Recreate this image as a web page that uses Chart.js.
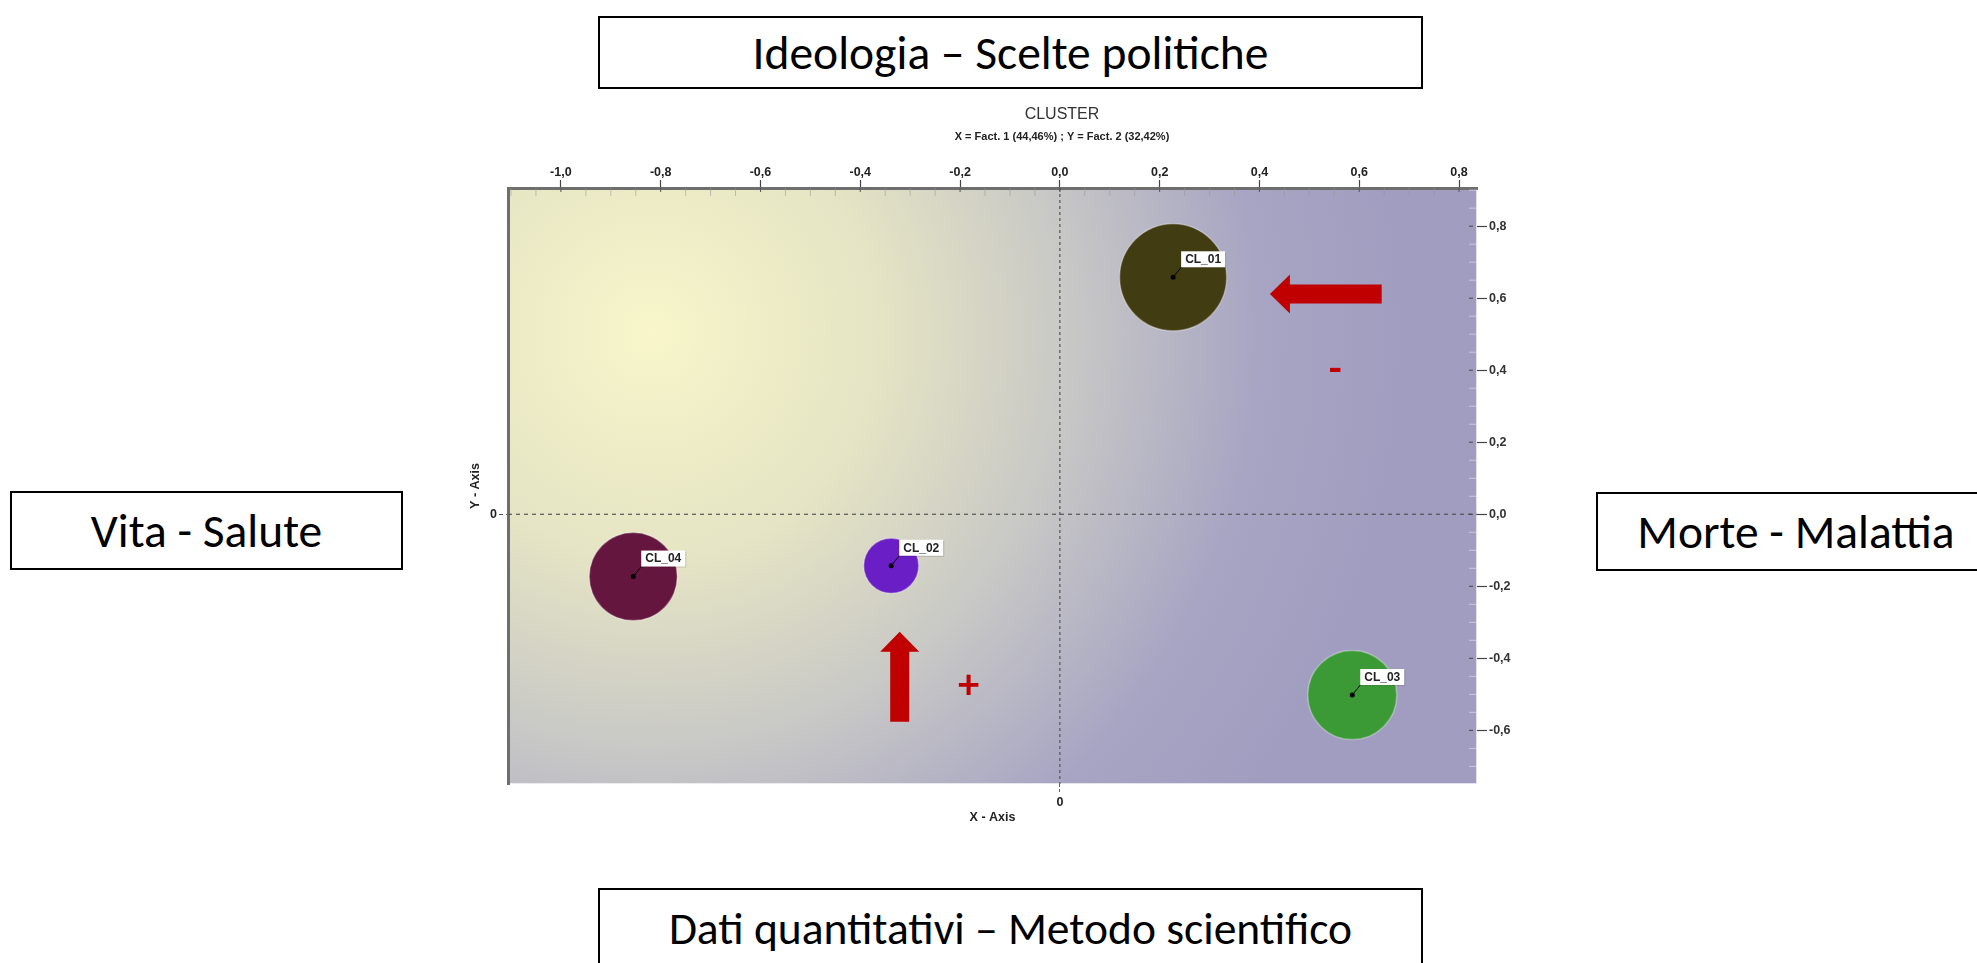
<!DOCTYPE html>
<html>
<head>
<meta charset="utf-8">
<title>Cluster</title>
<script src="https://cdn.jsdelivr.net/npm/chart.js@4.4.1/dist/chart.umd.min.js"></script>
<style>
  html, body { margin: 0; padding: 0; background: #fff; }
  #wrap { position: relative; width: 1977px; height: 963px; overflow: hidden; }
  #clusterChart { position: absolute; left: 147px; top: 0; }
  .box {
    position: absolute; box-sizing: border-box; border: 2px solid #000; background: #fff;
    display: flex; align-items: center; justify-content: center; white-space: nowrap;
    font-family: Calibri, Carlito, Lato, sans-serif; font-size: 47.5px; color: #000;
  }
</style>
</head>
<body>
<div id="wrap">
  <canvas id="clusterChart" width="1830" height="963"></canvas>
  <div class="box" style="left:598px;top:16px;width:825px;height:73px;">Ideologia – Scelte politiche</div>
  <div class="box" style="left:10px;top:491px;width:393px;height:79px;">Vita - Salute</div>
  <div class="box" style="left:1596px;top:492px;width:400px;height:79px;">Morte - Malattia</div>
  <div class="box" style="left:598px;top:888px;width:825px;height:80px;font-size:45.5px;">Dati quantitativi – Metodo scientifico</div>
</div>
<script>
// Cluster centroids on the two factors
const clusterLabels = ["CL_01", "CL_02", "CL_03", "CL_04"];
const factor1 = [0.227, -0.338, 0.586, -0.855];
const factor2 = [0.658, -0.143, -0.502, -0.173];
const clusterRadius = [53.5, 27.5, 44.5, 44];
const clusterColors = ["#423c12", "#6a1fc6", "#3c9a36", "#64163f"];

// Axis ticks
const xTicks = [-1.0, -0.8, -0.6, -0.4, -0.2, 0.0, 0.2, 0.4, 0.6, 0.8];
const yTicks = [-0.6, -0.4, -0.2, 0.0, 0.2, 0.4, 0.6, 0.8];

const X_MIN = -1.106, X_MAX = 0.836;
const Y_MIN = -0.749, Y_MAX = 0.906;

// Red hints drawn on top of the plot (data coordinates)
const arrows = [
  { from: [0.645, 0.612], to: [0.421, 0.612] },
  { from: [-0.321, -0.576], to: [-0.321, -0.326] },
];
const signs = [
  { text: "-", x: 0.552, y: 0.402 },
  { text: "+", x: -0.183, y: -0.473 },
];

const RED = "#c00000";
const AXIS_FONT = "'Liberation Sans Narrow', 'Liberation Sans', Arial, sans-serif";
const LABEL_FONT = "'Liberation Sans', Arial, sans-serif";

function commaLabel(v) {
  return Number(v).toFixed(1).replace(".", ",");
}

// background gradient of the plot area
const plotBackground = {
  id: "plotBackground",
  beforeDraw(chart) {
    const { ctx, chartArea: a, scales } = chart;
    const cx = scales.x.getPixelForValue(-0.82);
    const cy = scales.y.getPixelForValue(0.504);
    const g = ctx.createRadialGradient(cx, cy, 0, cx, cy, 760);
    g.addColorStop(0, "#f8f6ca");
    g.addColorStop(0.3, "#e5e4c4");
    g.addColorStop(0.55, "#c8c8c6");
    g.addColorStop(0.8, "#a7a5c3");
    g.addColorStop(1, "#a09dc0");
    ctx.save();
    ctx.fillStyle = g;
    ctx.fillRect(a.left, a.top, a.right - a.left, a.bottom - a.top);
    // light edge on right and bottom
    ctx.strokeStyle = "rgba(255,255,255,0.7)";
    ctx.lineWidth = 2;
    ctx.beginPath();
    ctx.moveTo(a.right, a.top);
    ctx.lineTo(a.right, a.bottom);
    ctx.lineTo(a.left, a.bottom);
    ctx.stroke();
    ctx.restore();
  },
};

// zero lines, minor ticks, labels and the red hints
const plotDecor = {
  id: "plotDecor",
  beforeDatasetsDraw(chart) {
    const { ctx, chartArea: a, scales } = chart;
    const x0 = scales.x.getPixelForValue(0);
    const y0 = scales.y.getPixelForValue(0);
    ctx.save();
    ctx.strokeStyle = "#555";
    ctx.lineWidth = 1.2;
    ctx.setLineDash([4, 4]);
    ctx.beginPath();
    ctx.moveTo(a.left, y0);
    ctx.lineTo(a.right, y0);
    ctx.stroke();
    ctx.setLineDash([3, 3]);
    ctx.beginPath();
    ctx.moveTo(x0, a.top);
    ctx.lineTo(x0, a.bottom);
    ctx.stroke();
    ctx.setLineDash([]);

    // minor ticks
    ctx.lineWidth = 1;
    for (let k = -22; k <= 16; k++) {
      const v = k * 0.05;
      const px = scales.x.getPixelForValue(v);
      if (px <= a.left + 2 || px >= a.right - 1) continue;
      const major = k % 4 === 0;
      ctx.strokeStyle = major ? "#555" : "rgba(150,150,150,0.55)";
      ctx.beginPath();
      ctx.moveTo(px, a.top);
      ctx.lineTo(px, a.top + (major ? 4 : 8));
      ctx.stroke();
    }
    for (let k = -15; k <= 18; k++) {
      const v = k * 0.05;
      const py = scales.y.getPixelForValue(v);
      if (py <= a.top + 2 || py >= a.bottom - 2) continue;
      const major = k % 4 === 0;
      ctx.strokeStyle = major ? "#444" : "rgba(230,230,240,0.6)";
      ctx.beginPath();
      if (major) {
        ctx.moveTo(a.right - 8, py);
        ctx.lineTo(a.right - 4, py);
      } else {
        ctx.moveTo(a.right - 8, py);
        ctx.lineTo(a.right, py);
      }
      ctx.stroke();
    }
    ctx.restore();
  },
  afterDatasetsDraw(chart) {
    const { ctx, scales } = chart;
    const meta = chart.getDatasetMeta(0);
    ctx.save();
    ctx.font = "bold 12px " + LABEL_FONT;
    ctx.textBaseline = "middle";
    meta.data.forEach((pt, i) => {
      const x = pt.x, y = pt.y;
      const bx = x + 8, by = y - 10;
      const w = ctx.measureText(clusterLabels[i]).width + 8, h = 16;
      ctx.strokeStyle = "#000";
      ctx.lineWidth = 1;
      ctx.beginPath();
      ctx.moveTo(x, y);
      ctx.lineTo(bx, by);
      ctx.stroke();
      ctx.fillStyle = "rgba(0,0,0,0.15)";
      ctx.fillRect(bx + 1, by - h + 1, w, h);
      ctx.fillStyle = "#fff";
      ctx.fillRect(bx, by - h, w, h);
      ctx.fillStyle = "#222";
      ctx.fillText(clusterLabels[i], bx + 4, by - h / 2 + 0.5);
      ctx.beginPath();
      ctx.arc(x, y, 2.5, 0, Math.PI * 2);
      ctx.fillStyle = "#000";
      ctx.fill();
    });

    // arrows
    ctx.fillStyle = RED;
    arrows.forEach((ar) => {
      const x1 = scales.x.getPixelForValue(ar.from[0]);
      const y1 = scales.y.getPixelForValue(ar.from[1]);
      const x2 = scales.x.getPixelForValue(ar.to[0]);
      const y2 = scales.y.getPixelForValue(ar.to[1]);
      const len = Math.hypot(x2 - x1, y2 - y1);
      const ang = Math.atan2(y2 - y1, x2 - x1);
      const shaft = 9.5, head = 19.5, headLen = 20;
      ctx.save();
      ctx.translate(x1, y1);
      ctx.rotate(ang);
      ctx.beginPath();
      ctx.moveTo(0, -shaft);
      ctx.lineTo(len - headLen, -shaft);
      ctx.lineTo(len - headLen, -head);
      ctx.lineTo(len, 0);
      ctx.lineTo(len - headLen, head);
      ctx.lineTo(len - headLen, shaft);
      ctx.lineTo(0, shaft);
      ctx.closePath();
      ctx.fill();
      ctx.restore();
    });

    ctx.font = "bold 40px Lato, sans-serif";
    ctx.textAlign = "center";
    ctx.textBaseline = "middle";
    signs.forEach((s) => {
      ctx.fillText(s.text, scales.x.getPixelForValue(s.x), scales.y.getPixelForValue(s.y));
    });
    ctx.restore();
  },
};

const tickFont = { family: AXIS_FONT, size: 12.5, weight: "bold" };

const chart = new Chart(document.getElementById("clusterChart"), {
  type: "bubble",
  data: {
    datasets: [
      {
        label: "Cluster",
        data: clusterLabels.map((name, i) => ({ x: factor1[i], y: factor2[i], r: clusterRadius[i] })),
        backgroundColor: clusterColors,
        borderColor: "rgba(255,255,255,0.3)",
        borderWidth: 1.5,
        hoverRadius: 0,
        xAxisID: "x",
        yAxisID: "y",
      },
    ],
  },
  options: {
    responsive: false,
    animation: false,
    events: [],
    layout: { padding: { left: 317.4, right: 317.4, top: 95, bottom: 134.4 } },
    plugins: {
      legend: { display: false },
      tooltip: { enabled: false },
      title: {
        display: true,
        text: "CLUSTER",
        color: "#333",
        font: { family: LABEL_FONT, size: 16, weight: "normal" },
        padding: { top: 10, bottom: 3 },
      },
      subtitle: {
        display: true,
        text: "X = Fact. 1 (44,46%) ; Y = Fact. 2 (32,42%)",
        color: "#222",
        font: { family: AXIS_FONT, size: 11, weight: "bold" },
        padding: { top: 3, bottom: 6.6 },
      },
    },
    scales: {
      x: {
        type: "linear",
        position: "top",
        min: X_MIN,
        max: X_MAX,
        afterBuildTicks: (s) => { s.ticks = xTicks.map((v) => ({ value: v })); },
        afterFit: (s) => { s.height = 38; },
        ticks: { callback: commaLabel, font: tickFont, color: "#222", padding: 0, maxRotation: 0 },
        grid: { drawOnChartArea: false, tickLength: 8, tickColor: "#444", tickWidth: 1.2 },
        border: { display: true, color: "#6e6e6e", width: 3 },
      },
      y: {
        type: "linear",
        position: "right",
        min: Y_MIN,
        max: Y_MAX,
        afterBuildTicks: (s) => { s.ticks = yTicks.map((v) => ({ value: v })); },
        afterFit: (s) => { s.width = 182.6; },
        ticks: { callback: commaLabel, font: tickFont, color: "#333", padding: 2 },
        grid: { drawOnChartArea: false, tickLength: 10, tickColor: "#444", tickWidth: 1.2 },
        border: { display: false },
      },
      x2: {
        type: "linear",
        position: "bottom",
        min: X_MIN,
        max: X_MAX,
        afterBuildTicks: (s) => { s.ticks = [{ value: 0 }]; },
        afterFit: (s) => { s.height = 44.6; },
        ticks: { callback: () => "0", font: tickFont, color: "#222", padding: 1 },
        grid: { drawOnChartArea: false, tickLength: 10, tickColor: "#666", tickBorderDash: [3, 2] },
        border: { display: false },
        title: { display: true, text: "X - Axis", color: "#222", font: tickFont },
      },
      y2: {
        type: "linear",
        position: "left",
        min: Y_MIN,
        max: Y_MAX,
        afterBuildTicks: (s) => { s.ticks = [{ value: 0 }]; },
        afterFit: (s) => { s.width = 43.6; },
        ticks: { callback: () => "0", font: tickFont, color: "#222", padding: 2 },
        grid: { drawOnChartArea: false, tickLength: 9, tickColor: "#555", tickBorderDash: [4, 3] },
        border: { display: true, color: "#6e6e6e", width: 3 },
        title: { display: true, text: "Y - Axis", color: "#222", font: tickFont },
      },
    },
  },
  plugins: [plotBackground, plotDecor],
});
</script>
</body>
</html>
